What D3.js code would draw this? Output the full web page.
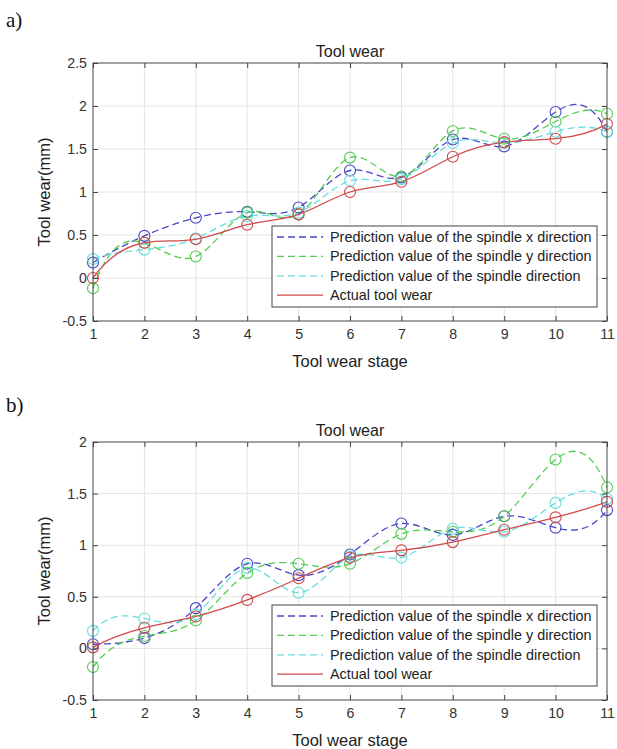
<!DOCTYPE html>
<html>
<head>
<meta charset="utf-8">
<script src="https://cdn.jsdelivr.net/npm/d3@7"></script>
<style>
  body { margin: 0; background: #fff; }
  svg text { font-family: "Liberation Sans", Arial, sans-serif; }
</style>
</head>
<body>
<div id="d3-container"></div>
<script>
// tool wear stages
const stages = [1, 2, 3, 4, 5, 6, 7, 8, 9, 10, 11];

// a) values
const aX = [0.18, 0.49, 0.70, 0.77, 0.82, 1.25, 1.17, 1.61, 1.53, 1.93, 1.70];
const aY = [-0.12, 0.41, 0.25, 0.76, 0.74, 1.40, 1.18, 1.71, 1.62, 1.82, 1.91];
const aC = [0.22, 0.33, 0.46, 0.72, 0.76, 1.13, 1.15, 1.57, 1.57, 1.70, 1.70];
const aA = [0.00, 0.41, 0.45, 0.62, 0.74, 1.00, 1.12, 1.41, 1.58, 1.62, 1.79];

// b) values
const bX = [0.04, 0.10, 0.39, 0.82, 0.71, 0.91, 1.21, 1.10, 1.28, 1.17, 1.34];
const bY = [-0.18, 0.12, 0.27, 0.73, 0.82, 0.82, 1.11, 1.13, 1.28, 1.83, 1.56];
const bC = [0.17, 0.29, 0.33, 0.78, 0.54, 0.89, 0.88, 1.16, 1.13, 1.41, 1.45];
const bA = [0.01, 0.20, 0.31, 0.47, 0.68, 0.88, 0.95, 1.03, 1.15, 1.27, 1.42];

const aTicks = [-0.5, 0, 0.5, 1, 1.5, 2, 2.5];
const bTicks = [-0.5, 0, 0.5, 1, 1.5, 2];

const seriesNames = [
  "Prediction value of the spindle x direction",
  "Prediction value of the spindle y direction",
  "Prediction value of the spindle direction",
  "Actual tool wear"
];
const colors = ["#4646c8", "#52cc52", "#66dede", "#d04a4a"];
const dashes = ["7,4", "7,4", "7,4", null];

// spline curve with not-a-knot ends (like matlab spline)
function NotAKnot(context) { this._context = context; }
NotAKnot.prototype = {
  areaStart: function() { this._line = 0; },
  areaEnd: function() { this._line = NaN; },
  lineStart: function() { this._x = []; this._y = []; },
  point: function(x, y) { this._x.push(+x); this._y.push(+y); },
  lineEnd: function() {
    const x = this._x, y = this._y, n = x.length;
    if (n) {
      this._line ? this._context.lineTo(x[0], y[0]) : this._context.moveTo(x[0], y[0]);
      if (n < 4) {
        for (let i = 1; i < n; i++) this._context.lineTo(x[i], y[i]);
      } else {
        const h = [];
        for (let i = 0; i < n - 1; i++) h.push(x[i + 1] - x[i]);
        const A = [], b = [];
        for (let i = 0; i < n; i++) { A.push(new Array(n).fill(0)); b.push(0); }
        A[0][0] = h[1]; A[0][1] = -(h[0] + h[1]); A[0][2] = h[0];
        for (let i = 1; i < n - 1; i++) {
          A[i][i - 1] = h[i - 1];
          A[i][i] = 2 * (h[i - 1] + h[i]);
          A[i][i + 1] = h[i];
          b[i] = 6 * ((y[i + 1] - y[i]) / h[i] - (y[i] - y[i - 1]) / h[i - 1]);
        }
        A[n - 1][n - 3] = h[n - 2]; A[n - 1][n - 2] = -(h[n - 3] + h[n - 2]); A[n - 1][n - 1] = h[n - 3];
        // gauss
        for (let c = 0; c < n; c++) {
          let p = c;
          for (let r = c + 1; r < n; r++) if (Math.abs(A[r][c]) > Math.abs(A[p][c])) p = r;
          [A[c], A[p]] = [A[p], A[c]]; [b[c], b[p]] = [b[p], b[c]];
          for (let r = c + 1; r < n; r++) {
            const f = A[r][c] / A[c][c];
            for (let k = c; k < n; k++) A[r][k] -= f * A[c][k];
            b[r] -= f * b[c];
          }
        }
        const M = new Array(n).fill(0);
        for (let r = n - 1; r >= 0; r--) {
          let s = b[r];
          for (let k = r + 1; k < n; k++) s -= A[r][k] * M[k];
          M[r] = s / A[r][r];
        }
        for (let i = 0; i < n - 1; i++) {
          const hi = h[i], d = (y[i + 1] - y[i]) / hi;
          const s0 = d - hi * (2 * M[i] + M[i + 1]) / 6;
          const s1 = d + hi * (M[i] + 2 * M[i + 1]) / 6;
          this._context.bezierCurveTo(
            x[i] + hi / 3, y[i] + s0 * hi / 3,
            x[i + 1] - hi / 3, y[i + 1] - s1 * hi / 3,
            x[i + 1], y[i + 1]);
        }
      }
    }
    if (this._line || (this._line !== 0 && n === 1)) this._context.closePath();
    this._line = 1 - this._line;
    this._x = this._y = null;
  }
};
const curveNotAKnot = context => new NotAKnot(context);

const width = 617, height = 749;
const svg = d3.select('#d3-container')
  .append('svg')
  .attr('width', width)
  .attr('height', height);

function panel(opts) {
  const left = 93, right = 607;
  const x = d3.scaleLinear().domain([1, 11]).range([left, right]);
  const y = d3.scaleLinear().domain([opts.ticks[0], opts.ticks[opts.ticks.length - 1]])
    .range([opts.bottom, opts.top]);

  const g = svg.append("g");

  // letter
  g.append("text")
    .attr("x", 6).attr("y", opts.letterY)
    .style("font-family", '"Liberation Serif", "Times New Roman", serif')
    .attr("font-size", "21px")
    .attr("fill", "#111")
    .text(opts.letter);

  // grid
  g.append("g").selectAll("line").data(stages.slice(1, -1)).join("line")
    .attr("x1", d => x(d)).attr("x2", d => x(d))
    .attr("y1", opts.top).attr("y2", opts.bottom)
    .attr("stroke", "#e4e4e4").attr("stroke-width", 1);
  g.append("g").selectAll("line").data(opts.ticks.slice(1, -1)).join("line")
    .attr("y1", d => y(d)).attr("y2", d => y(d))
    .attr("x1", left).attr("x2", right)
    .attr("stroke", "#e4e4e4").attr("stroke-width", 1);

  // curves
  const series = [opts.sx, opts.sy, opts.sc, opts.sa];
  const line = d3.line()
    .x((d, i) => x(stages[i]))
    .y(d => y(d))
    .curve(curveNotAKnot);

  series.forEach((s, k) => {
    g.append("path")
      .attr("d", line(s))
      .attr("fill", "none")
      .attr("stroke", colors[k])
      .attr("stroke-width", 1.3)
      .attr("stroke-dasharray", dashes[k]);
  });
  series.forEach((s, k) => {
    g.append("g").selectAll("circle").data(s).join("circle")
      .attr("cx", (d, i) => x(stages[i]))
      .attr("cy", d => y(d))
      .attr("r", 5.5)
      .attr("fill", "none")
      .attr("stroke", colors[k])
      .attr("stroke-width", 1.1);
  });

  // axes (box with inward ticks)
  const axisColor = "#444";
  g.append("g")
    .attr("transform", `translate(0,${opts.bottom})`)
    .call(d3.axisBottom(x).tickValues(stages).tickSize(-5).tickPadding(8).tickFormat(d3.format("d")))
    .call(a => a.select(".domain").remove());
  g.append("g")
    .attr("transform", `translate(0,${opts.top})`)
    .call(d3.axisTop(x).tickValues(stages).tickSize(-5).tickFormat(""))
    .call(a => a.select(".domain").remove());
  g.append("g")
    .attr("transform", `translate(${left},0)`)
    .call(d3.axisLeft(y).tickValues(opts.ticks).tickSize(-5).tickPadding(6).tickFormat(d => d))
    .call(a => a.select(".domain").remove());
  g.append("g")
    .attr("transform", `translate(${right},0)`)
    .call(d3.axisRight(y).tickValues(opts.ticks).tickSize(-5).tickFormat(""))
    .call(a => a.select(".domain").remove());
  g.selectAll(".tick line").attr("stroke", axisColor);
  g.selectAll(".tick text").attr("font-size", "14.2px").attr("fill", "#333")
    .style("font-family", '"Liberation Sans", Arial, sans-serif');

  g.append("rect")
    .attr("x", left).attr("y", opts.top)
    .attr("width", right - left).attr("height", opts.bottom - opts.top)
    .attr("fill", "none").attr("stroke", axisColor).attr("stroke-width", 1);

  // titles
  g.append("text")
    .attr("x", (left + right) / 2).attr("y", opts.top - 6)
    .attr("text-anchor", "middle").attr("font-size", "16px").attr("fill", "#222")
    .text("Tool wear");
  g.append("text")
    .attr("x", (left + right) / 2).attr("y", opts.bottom + 46)
    .attr("text-anchor", "middle").attr("font-size", "16.5px").attr("fill", "#222")
    .text("Tool wear stage");
  g.append("text")
    .attr("transform", `translate(50,${(opts.top + opts.bottom) / 2}) rotate(-90)`)
    .attr("text-anchor", "middle").attr("font-size", "16.5px").attr("fill", "#222")
    .text("Tool wear(mm)");

  // legend
  const lx = 272, ly = opts.legendTop, lw = 325, lh = 81;
  const leg = g.append("g");
  leg.append("rect")
    .attr("x", lx).attr("y", ly).attr("width", lw).attr("height", lh)
    .attr("fill", "#fff").attr("stroke", axisColor).attr("stroke-width", 1);
  seriesNames.forEach((name, k) => {
    const ry = ly + 11 + k * 19.4;
    leg.append("line")
      .attr("x1", lx + 5).attr("x2", lx + 51)
      .attr("y1", ry).attr("y2", ry)
      .attr("stroke", colors[k]).attr("stroke-width", 1.3)
      .attr("stroke-dasharray", dashes[k]);
    leg.append("text")
      .attr("x", lx + 58).attr("y", ry + 5)
      .attr("font-size", "14.4px").attr("fill", "#222")
      .text(name);
  });
}

panel({ letter: "a)", letterY: 27, top: 63, bottom: 321, ticks: aTicks,
        sx: aX, sy: aY, sc: aC, sa: aA, legendTop: 226 });
panel({ letter: "b)", letterY: 412, top: 442, bottom: 700, ticks: bTicks,
        sx: bX, sy: bY, sc: bC, sa: bA, legendTop: 605 });
</script>
</body>
</html>
